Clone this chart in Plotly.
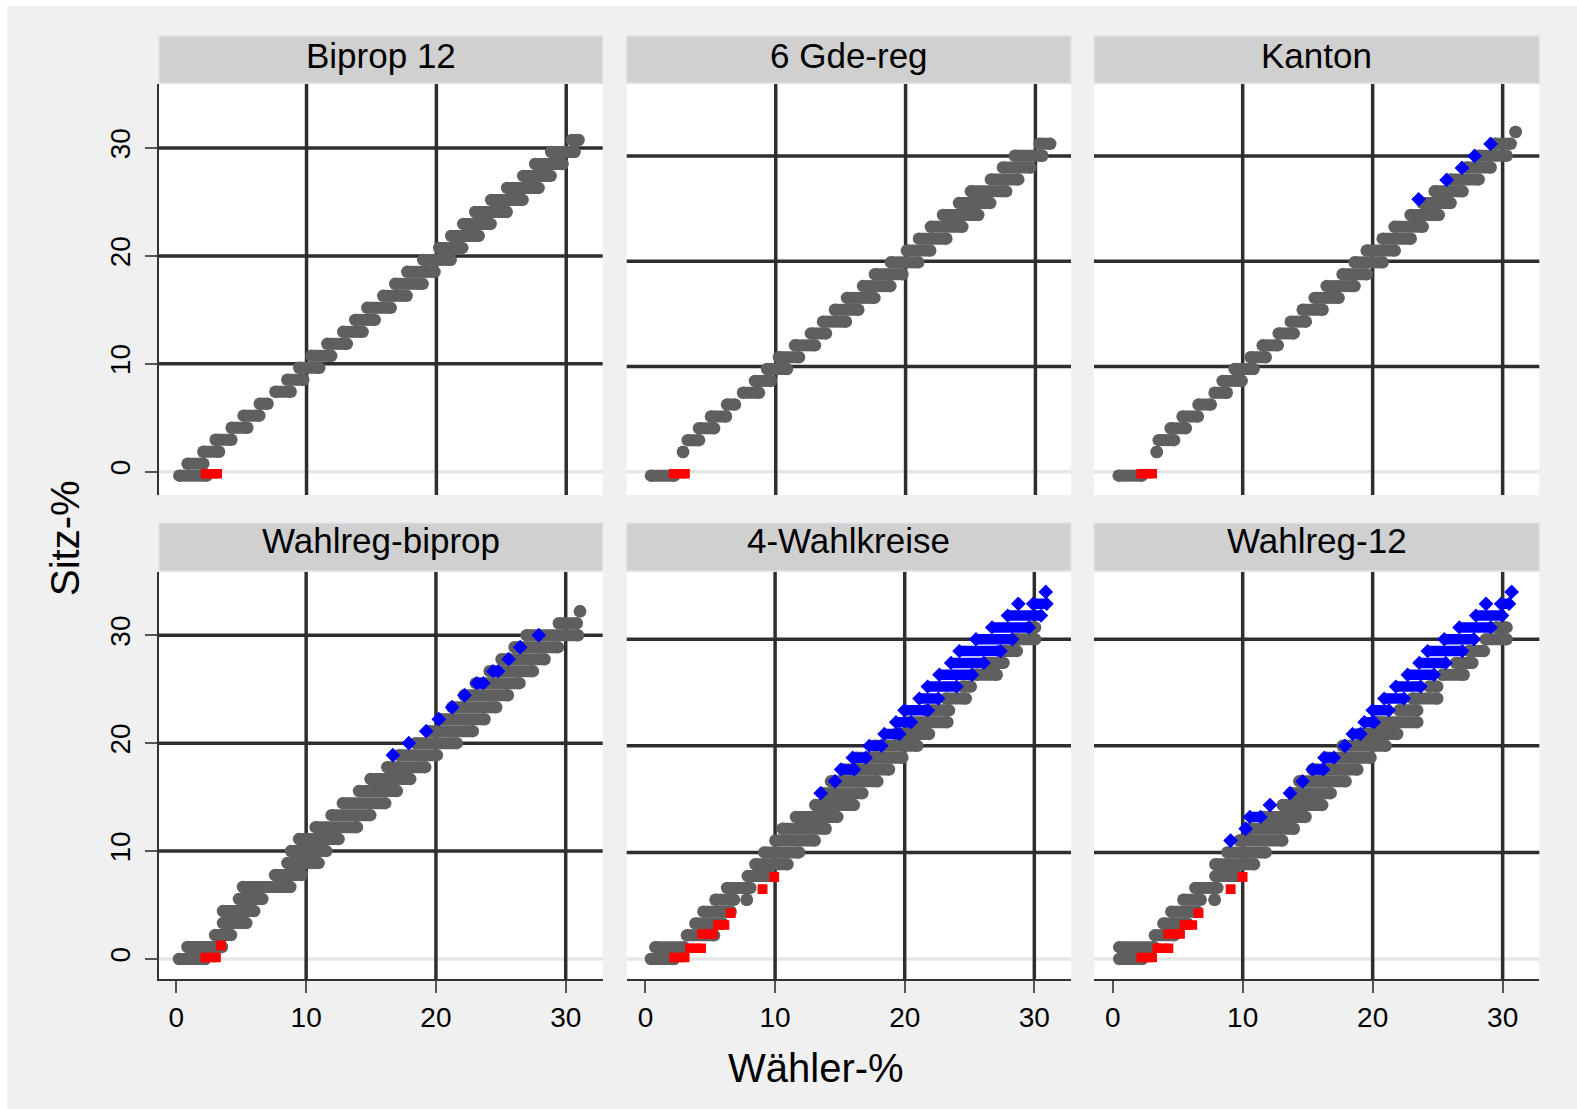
import plotly.graph_objects as go

W, H = 1577, 1109
FONT = "Liberation Sans, Arial, sans-serif"

panel_titles = ["Biprop 12", "6 Gde-reg", "Kanton", "Wahlreg-biprop", "4-Wahlkreise", "Wahlreg-12"]
tick_values = [0, 10, 20, 30]
tick_labels = ["0", "10", "20", "30"]
grid_values = [10, 20, 30]
x_title = "Wähler-%"
y_title = "Sitz-%"

# each step: (Sitz-%, Wähler-% from, Wähler-% to)
biprop12_grey = [
    (-0.37, 0.20, 2.31), (0.74, 0.84, 2.05), (1.85, 2.05, 3.26), (2.96, 3.00, 4.21),
    (4.07, 4.23, 5.44), (5.19, 5.15, 6.37), (6.30, 6.40, 7.00), (7.41, 7.60, 8.78),
    (8.52, 8.52, 9.75), (9.63, 9.44, 10.98), (10.74, 10.37, 11.90), (11.85, 11.60, 13.10),
    (12.96, 12.83, 14.32), (14.07, 13.75, 15.25), (15.19, 14.68, 16.48), (16.30, 15.91, 17.71),
    (17.41, 16.83, 18.94), (18.52, 17.76, 19.86), (19.63, 18.99, 21.10), (20.74, 20.22, 22.00),
    (21.85, 21.14, 23.26), (22.96, 22.07, 24.18), (24.07, 22.99, 25.41), (25.19, 24.22, 26.64),
    (26.30, 25.45, 27.87), (27.41, 26.69, 28.80), (28.52, 27.61, 29.72), (29.63, 28.84, 30.64),
    (30.74, 30.44, 30.95),
]
biprop12_blue = []
biprop12_red = [(-0.19, 2.22, 3.12)]

gde6_grey = [
    (-0.38, 0.39, 2.19), (1.87, 2.86, 2.86), (3.00, 3.22, 4.09), (4.13, 4.09, 5.25),
    (5.25, 5.01, 6.17), (6.38, 6.25, 6.86), (7.50, 7.48, 8.71), (8.63, 8.40, 9.63),
    (9.76, 9.33, 10.87), (10.88, 10.25, 11.79), (12.01, 11.48, 13.02), (13.14, 12.71, 13.87),
    (14.26, 13.64, 15.41), (15.39, 14.56, 16.36), (16.52, 15.49, 17.60), (17.64, 16.72, 18.83),
    (18.77, 17.64, 19.75), (19.90, 18.87, 20.98), (21.02, 20.10, 21.90), (22.15, 21.03, 23.14),
    (23.27, 21.95, 24.37), (24.40, 22.88, 25.60), (25.53, 24.11, 26.52), (26.65, 25.03, 27.75),
    (27.78, 26.57, 28.68), (28.91, 27.50, 29.60), (30.03, 28.42, 30.53), (31.16, 30.32, 31.14),
]
gde6_blue = []
gde6_red = [(-0.19, 2.13, 3.02)]

kanton_grey = [
    (-0.38, 0.46, 2.25), (1.87, 3.39, 3.39), (3.00, 3.54, 4.72), (4.13, 4.46, 5.62),
    (5.25, 5.38, 6.55), (6.38, 6.60, 7.55), (7.50, 7.84, 8.78), (8.63, 8.46, 9.92),
    (9.76, 9.38, 10.84), (10.88, 10.61, 11.77), (12.01, 11.54, 12.70), (13.14, 12.77, 13.93),
    (14.26, 13.70, 14.86), (15.39, 14.62, 16.15), (16.52, 15.54, 17.38), (17.64, 16.46, 18.61),
    (18.77, 17.69, 19.54), (19.90, 18.61, 20.77), (21.02, 19.54, 21.70), (22.15, 20.77, 22.93),
    (23.27, 21.69, 23.85), (24.40, 22.92, 25.08), (25.53, 23.85, 26.00), (26.65, 24.77, 26.92),
    (27.78, 26.00, 28.16), (28.91, 27.23, 29.08), (30.03, 28.15, 30.31), (31.16, 29.38, 30.62),
    (32.29, 31.00, 31.00),
]
kanton_blue = [
    (25.89, 23.54, 23.54), (27.73, 25.69, 25.69), (28.87, 26.87, 26.87),
    (30.01, 27.84, 27.84), (31.15, 29.07, 29.07),
]
kanton_red = [(-0.19, 2.19, 3.04)]

wrbiprop_grey = [
    (0.00, 0.20, 2.23), (1.11, 0.85, 3.51), (2.22, 2.98, 4.21), (3.33, 3.59, 5.39),
    (4.44, 3.59, 6.00), (5.56, 4.82, 6.62), (6.67, 5.13, 8.78), (7.78, 7.60, 9.67),
    (8.89, 8.55, 10.96), (10.00, 8.83, 11.55), (11.11, 9.45, 12.50), (12.22, 10.73, 13.91),
    (13.33, 11.96, 14.94), (14.44, 12.83, 16.09), (15.56, 14.07, 16.99), (16.67, 14.96, 18.02),
    (17.78, 16.25, 19.17), (18.89, 17.14, 20.07), (20.00, 18.43, 21.60), (21.11, 19.44, 22.84),
    (22.22, 20.34, 23.74), (23.33, 21.26, 24.64), (24.44, 22.19, 25.54), (25.56, 23.08, 26.44),
    (26.67, 24.14, 27.47), (27.78, 25.06, 28.37), (28.89, 26.06, 29.40), (30.00, 26.99, 30.94),
    (31.11, 29.47, 30.85), (32.22, 31.10, 31.10),
]
wrbiprop_blue = [
    (18.89, 16.68, 16.68), (20.00, 17.91, 17.91), (21.11, 19.25, 19.25), (22.22, 20.22, 20.22),
    (23.33, 21.25, 21.25), (24.44, 22.20, 22.20), (25.56, 23.15, 23.66), (26.67, 24.40, 24.80),
    (27.78, 25.60, 25.60), (28.89, 26.49, 26.49), (30.00, 27.92, 27.92),
]
wrbiprop_red = [(0.15, 2.22, 3.06), (1.25, 3.44, 3.44)]

wk4_grey = [
    (0.00, 0.42, 2.20), (1.11, 0.76, 2.97), (2.22, 3.20, 5.29), (3.33, 3.85, 5.93),
    (4.44, 4.47, 6.57), (5.56, 5.40, 6.83), (5.56, 7.81, 7.81), (6.67, 6.30, 8.09),
    (7.78, 7.89, 9.66), (8.89, 8.48, 10.95), (10.00, 9.17, 11.85), (11.11, 10.02, 13.06),
    (12.22, 10.58, 13.90), (13.33, 11.61, 14.80), (14.44, 13.10, 16.08), (15.56, 13.67, 16.73),
    (16.67, 14.31, 17.89), (17.78, 15.21, 18.79), (18.89, 16.24, 19.82), (20.00, 17.66, 20.97),
    (21.11, 19.33, 21.87), (22.22, 20.36, 23.29), (23.33, 21.65, 23.42), (24.44, 23.19, 24.71),
    (25.56, 24.48, 25.10), (26.67, 25.51, 27.10), (27.78, 26.28, 27.62), (28.89, 27.31, 28.65),
    (30.00, 28.60, 30.06), (31.11, 29.60, 30.06),
]
wk4_blue = [
    (15.56, 13.52, 13.52), (16.67, 14.62, 14.62), (17.78, 15.08, 16.10), (18.89, 15.98, 17.00),
    (20.00, 17.27, 18.20), (21.11, 18.43, 19.60), (22.22, 19.33, 20.50), (23.33, 19.97, 21.80),
    (24.44, 21.13, 22.60), (25.56, 21.77, 24.00), (26.67, 22.67, 25.20), (27.78, 23.57, 26.10),
    (28.89, 24.22, 27.40), (30.00, 25.50, 28.30), (31.11, 26.74, 29.60), (32.22, 27.95, 30.52),
    (33.33, 28.77, 28.77), (33.33, 29.90, 30.95), (34.44, 30.88, 30.88),
]
wk4_red = [
    (0.15, 2.19, 3.03), (1.00, 3.42, 4.30), (2.35, 4.35, 5.20), (3.20, 5.58, 6.10),
    (4.30, 6.57, 6.57), (6.55, 9.03, 9.03), (7.70, 9.94, 9.94),
]

wr12_grey = [
    (0.00, 0.51, 2.28), (1.11, 0.51, 3.18), (2.22, 3.25, 4.72), (3.33, 3.90, 5.74),
    (4.44, 4.51, 6.50), (5.56, 5.44, 6.77), (5.56, 7.84, 7.84), (6.67, 6.36, 8.05),
    (7.78, 7.90, 9.59), (8.89, 7.90, 10.87), (10.00, 8.82, 11.77), (11.11, 9.74, 13.05),
    (12.22, 10.51, 13.94), (13.33, 11.54, 14.84), (14.44, 13.07, 16.12), (15.56, 13.72, 16.77),
    (16.67, 14.36, 17.92), (17.78, 15.38, 18.82), (18.89, 16.41, 19.84), (20.00, 17.69, 21.00),
    (21.11, 18.97, 21.89), (22.22, 20.26, 23.43), (23.33, 22.05, 23.43), (24.44, 23.07, 24.97),
    (25.56, 24.36, 24.97), (26.67, 25.38, 27.00), (27.78, 26.41, 27.67), (28.89, 27.43, 28.56),
    (30.00, 28.71, 30.30), (31.11, 29.49, 30.30),
]
wr12_blue = [
    (11.11, 9.07, 9.07), (12.22, 10.23, 10.23), (13.33, 10.55, 11.38), (14.44, 12.10, 12.10),
    (15.56, 13.64, 13.64), (16.67, 14.61, 14.61), (17.78, 15.38, 16.20), (18.89, 16.28, 17.02),
    (20.00, 17.87, 17.87), (21.11, 18.46, 19.07), (22.22, 19.36, 20.10), (23.33, 19.99, 21.25),
    (24.44, 20.89, 22.41), (25.56, 21.79, 23.69), (26.67, 22.69, 24.72), (27.78, 23.59, 25.62),
    (28.89, 24.23, 26.90), (30.00, 25.51, 27.79), (31.11, 26.67, 29.08), (32.22, 27.95, 29.97),
    (33.33, 28.72, 28.72), (33.33, 29.87, 30.50), (34.44, 30.69, 30.69),
]
wr12_red = [
    (0.15, 2.19, 3.04), (1.00, 3.42, 4.30), (2.35, 4.28, 5.19), (3.20, 5.52, 6.13),
    (4.30, 6.60, 6.60), (6.55, 9.07, 9.07), (7.70, 9.99, 9.99),
]

panel_data = [
    (biprop12_grey, biprop12_blue, biprop12_red),
    (gde6_grey, gde6_blue, gde6_red),
    (kanton_grey, kanton_blue, kanton_red),
    (wrbiprop_grey, wrbiprop_blue, wrbiprop_red),
    (wk4_grey, wk4_blue, wk4_red),
    (wr12_grey, wr12_blue, wr12_red),
]

# ---------------- layout geometry (pixels) ----------------
col_px = [(159, 602.7), (626.7, 1071), (1094, 1539.3)]
row_px = [(84, 495), (571.7, 979.3)]
strip_px = [(35.7, 83.3), (523, 571)]
strip_text_shift = [-4, -7]
x_ranges = [(-1.363, 32.81), (-1.479, 32.74), (-1.438, 32.82),
            (-1.34, 32.85), (-1.45, 32.83), (-1.438, 32.82)]
y_ranges = [(-2.159, 35.93), (-2.215, 36.85), (-2.215, 36.85),
            (-1.88, 35.89), (-1.905, 36.34), (-1.905, 36.34)]


def fx(px):
    return px / W


def fy(py):
    return 1 - py / H


def seg_xy(steps):
    xs, ys = [], []
    for y, x0, x1 in steps:
        xs += [x0, x1, None]
        ys += [y, y, None]
    return xs, ys


fig = go.Figure()
layout = dict(
    width=W, height=H, autosize=False,
    margin=dict(l=0, r=0, t=0, b=0),
    paper_bgcolor="#F0F0F0", plot_bgcolor="white",
    showlegend=False,
    font=dict(family=FONT, color="black"),
)
shapes = []
annotations = []

styles = [
    dict(color="#5F5F5F", symbol="circle", size=12.5, width=12),
    dict(color="#0000FF", symbol="diamond", size=11, width=10.5),
    dict(color="#FF0000", symbol="square", size=9.5, width=9.5),
]

for i in range(6):
    r, c = divmod(i, 3)
    n = "" if i == 0 else str(i + 1)
    xa, ya = "x" + n, "y" + n
    for steps, st in zip(panel_data[i], styles):
        if not steps:
            continue
        xs, ys = seg_xy(steps)
        fig.add_trace(go.Scatter(
            x=xs, y=ys, xaxis=xa, yaxis=ya, mode="lines+markers",
            line=dict(color=st["color"], width=st["width"]),
            marker=dict(color=st["color"], symbol=st["symbol"], size=st["size"], line=dict(width=0)),
            hoverinfo="skip", connectgaps=False,
        ))
    bottom = r == 1
    left = c == 0
    layout["xaxis" + n] = dict(
        domain=[fx(col_px[c][0]), fx(col_px[c][1])], anchor=ya, range=list(x_ranges[i]),
        showgrid=False, zeroline=False, tickvals=tick_values, ticktext=tick_labels,
        showticklabels=bottom, ticks="outside" if bottom else "", ticklen=12, tickwidth=1.5,
        tickcolor="#555555", showline=bottom, linecolor="#333333", linewidth=1.5,
        tickfont=dict(size=28, family=FONT, color="black"), ticklabelstandoff=0,
    )
    layout["yaxis" + n] = dict(
        domain=[fy(row_px[r][1]), fy(row_px[r][0])], anchor=xa, range=list(y_ranges[i]),
        showgrid=False, zeroline=False, tickvals=tick_values, ticktext=tick_labels,
        showticklabels=left, ticks="outside" if left else "", ticklen=12, tickwidth=1.5,
        tickcolor="#555555", showline=left, linecolor="#333333", linewidth=1.5,
        tickangle=-90, tickfont=dict(size=28, family=FONT, color="black"), ticklabelstandoff=4,
    )
    # light zero line, dark grid lines
    shapes.append(dict(type="line", xref=xa + " domain", yref=ya, x0=0, x1=1, y0=0, y1=0,
                       line=dict(color="#E6E6E6", width=3.5), layer="below"))
    for g in grid_values:
        shapes.append(dict(type="line", xref=xa, yref=ya + " domain", x0=g, x1=g, y0=0, y1=1,
                           line=dict(color="#2E2E2E", width=3.5), layer="below"))
        shapes.append(dict(type="line", xref=xa + " domain", yref=ya, x0=0, x1=1, y0=g, y1=g,
                           line=dict(color="#2E2E2E", width=3.5), layer="below"))
    # strip
    s0, s1 = strip_px[r]
    shapes.append(dict(type="rect", xref="paper", yref="paper",
                       x0=fx(col_px[c][0]), x1=fx(col_px[c][1]), y0=fy(s1), y1=fy(s0),
                       fillcolor="#D0D0D0", line=dict(color="#DCE4EC", width=1.5), layer="above"))
    annotations.append(dict(text=panel_titles[i], xref="paper", yref="paper",
                            x=fx((col_px[c][0] + col_px[c][1]) / 2),
                            y=fy((s0 + s1) / 2 + strip_text_shift[r]),
                            xanchor="center", yanchor="middle", showarrow=False,
                            font=dict(size=35, family=FONT, color="black")))

# white page edge (top and left)
shapes.append(dict(type="rect", xref="paper", yref="paper", x0=0, x1=1, y0=fy(6), y1=1,
                   fillcolor="white", line=dict(width=0), layer="below"))
shapes.append(dict(type="rect", xref="paper", yref="paper", x0=0, x1=fx(7), y0=0, y1=1,
                   fillcolor="white", line=dict(width=0), layer="below"))

annotations.append(dict(text=x_title, xref="paper", yref="paper", x=fx(816), y=fy(1068),
                        xanchor="center", yanchor="middle", showarrow=False,
                        font=dict(size=40, family=FONT, color="black")))
annotations.append(dict(text=y_title, xref="paper", yref="paper", x=fx(65), y=fy(538),
                        xanchor="center", yanchor="middle", showarrow=False, textangle=-90,
                        font=dict(size=40, family=FONT, color="black")))

layout["shapes"] = shapes
layout["annotations"] = annotations
fig.update_layout(**layout)

fig.write_html("out.html", config={"displayModeBar": False},
               post_script="document.body.style.margin='0px';")
